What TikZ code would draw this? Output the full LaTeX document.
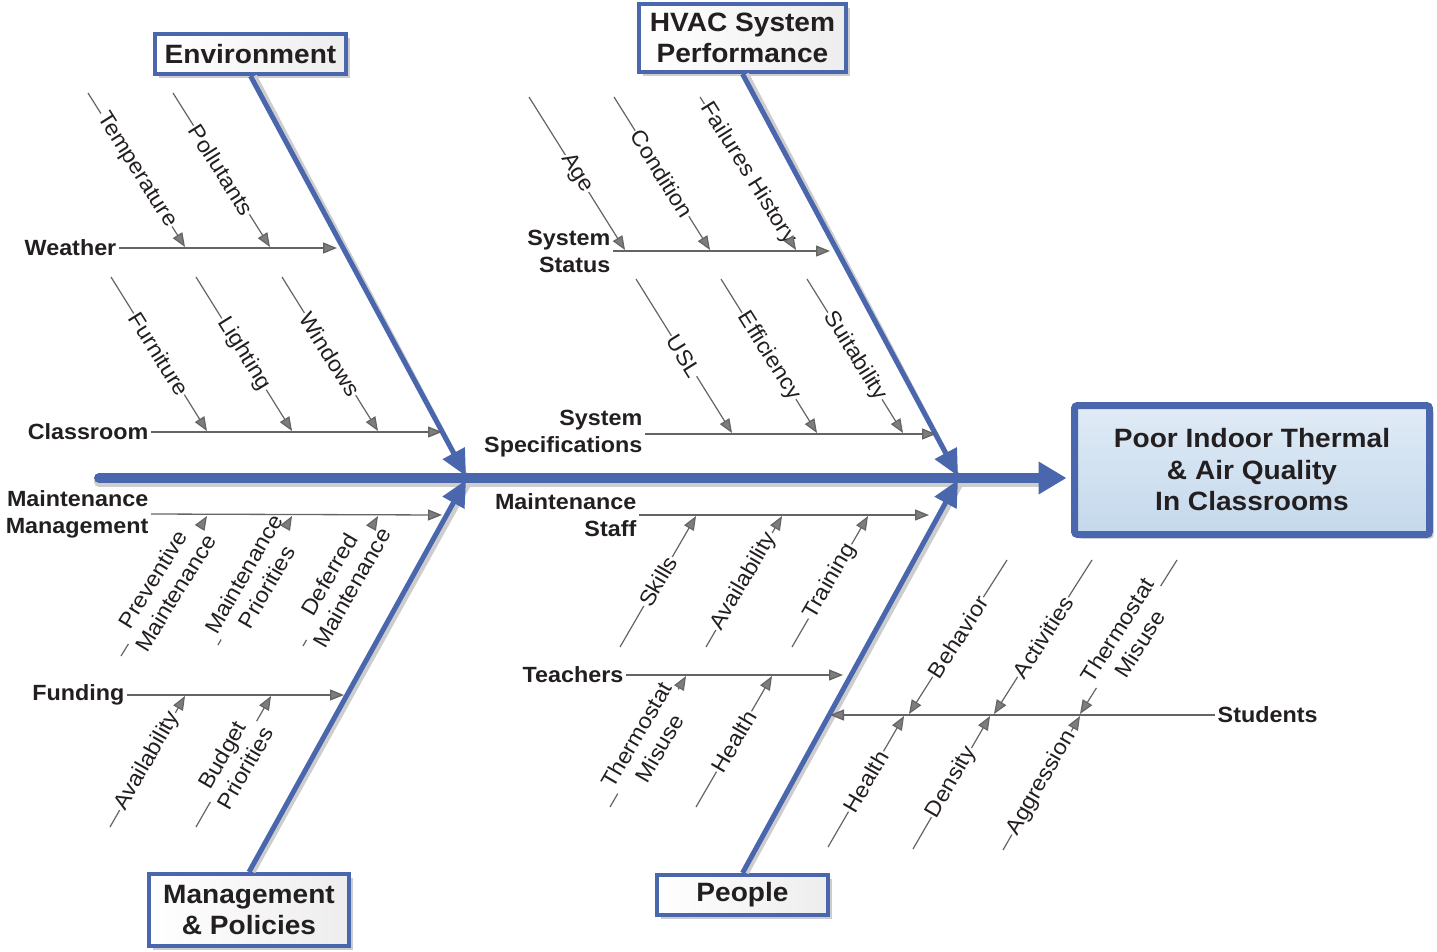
\documentclass[tikz,border=0pt]{standalone}
\usepackage{fontspec}
\setmainfont{Liberation Sans}[FakeStretch=1.06]
\usetikzlibrary{arrows.meta,calc,shadows}
\definecolor{bluec}{RGB}{74,102,172}
\definecolor{linec}{RGB}{100,100,100}
\definecolor{tipc}{RGB}{125,125,125}
\definecolor{txtc}{RGB}{35,31,32}
\definecolor{effTop}{RGB}{224,235,246}
\definecolor{effBot}{RGB}{196,216,235}
\definecolor{shd}{RGB}{205,205,205}
\newcommand\causefw[5][0.5]{%
  \coordinate (#2s) at #3;
  \coordinate (#2e) at #4;
  \path (#2s) -- (#2e) node[causelbl, sloped, pos=#1] (#2) {#5};
  \draw[subline] (#2s) -- (#2.west);
  \draw[subarrow] (#2.east) -- (#2e);
}
\newcommand\causerv[5][0.5]{%
  \coordinate (#2s) at #3;
  \coordinate (#2e) at #4;
  \path (#2s) -- (#2e) node[causelbl, sloped, pos=#1] (#2) {#5};
  \draw[subline] (#2s) -- (#2.east);
  \draw[subarrow] (#2.west) -- (#2e);
}
\begin{document}
\begin{tikzpicture}[x=1bp,y=-1bp,
  catbox/.style={draw=bluec, line width=4bp, left color=white, right color=black!7,
    font=\fontsize{26.5bp}{31.5bp}\selectfont\bfseries, text=txtc, align=center, inner sep=0pt,
    drop shadow={shadow xshift=4bp, shadow yshift=-4bp, fill=shd, opacity=1}},
  catlbl/.style={font=\fontsize{22bp}{27bp}\selectfont\bfseries, text=txtc, inner sep=2.5bp, align=right},
  causelbl/.style={font=\fontsize{22bp}{26.5bp}\selectfont, text=txtc, inner sep=1bp, align=center},
  bone/.style={draw=bluec, line width=5bp, -{Triangle[length=26bp,width=24bp]}},
  boneshd/.style={draw=shd, line width=5bp},
  spine/.style={draw=bluec, line width=10bp, line cap=round, -{Triangle[length=28bp,width=31bp]}},
  branch/.style={draw=linec, line width=1.3bp, -{Triangle[length=14bp,width=11bp,fill=tipc]}},
  subline/.style={draw=linec, line width=1.2bp},
  subarrow/.style={subline, -{Triangle[length=14bp,width=11bp,fill=tipc]}}
]
\useasboundingbox (0,0) rectangle (1437,951);

% ---------- boxes ----------
\node[catbox, minimum width=191bp, minimum height=40bp] (env) at (250.5,54) {Environment};
\node[catbox, minimum width=207bp, minimum height=68bp] (hvac) at (742.5,38) {HVAC System\\Performance};
\node[catbox, minimum width=200bp, minimum height=72bp] (mgmt) at (249,910) {Management\\\& Policies};
\node[catbox, minimum width=171bp, minimum height=40bp] (people) at (742.5,895) {People};
\node[draw=bluec, line width=7bp, rounded corners=3bp, top color=effTop, bottom color=effBot,
  minimum width=355bp, minimum height=129bp, inner sep=0pt,
  font=\fontsize{26.5bp}{31.5bp}\selectfont\bfseries, text=txtc, align=center,
  drop shadow={shadow xshift=4bp, shadow yshift=-4bp, fill=shd, opacity=1}] (eff) at (1252,470)
  {Poor Indoor Thermal\\\& Air Quality\\In Classrooms};

% ---------- spine and bones ----------
\coordinate (spL) at (99,478);
\coordinate (envtip) at (466,476);
\coordinate (hvactip) at (958,476);
\coordinate (mgmttip) at (466,480);
\coordinate (peopletip) at (958,480);

\draw[boneshd] ([xshift=4bp]env.south) -- ([xshift=2bp,yshift=-4bp]envtip);
\draw[boneshd] ([xshift=4bp]hvac.south) -- ([xshift=2bp,yshift=-4bp]hvactip);
\draw[boneshd] ([xshift=4bp]mgmt.north) -- ([xshift=4bp,yshift=-2bp]mgmttip);
\draw[boneshd] ([xshift=4bp]people.north) -- ([xshift=4bp,yshift=-2bp]peopletip);
\draw[draw=shd, line width=10bp, line cap=round] ([yshift=-4bp]spL) -- ([xshift=-32bp,yshift=-4bp]spL -| eff.west);

\draw[spine] (spL) -- ([xshift=-4.5bp]spL -| eff.west);
\draw[bone] (env.south) -- (envtip);
\draw[bone] (hvac.south) -- (hvactip);
\draw[bone] (mgmt.north) -- (mgmttip);
\draw[bone] (people.north) -- (peopletip);

% ---------- branches ----------
\node[catlbl, anchor=east] (weather) at (119,248) {Weather};
\coordinate (weatherT) at (337,248);
\draw[branch] (weather.east) -- (weatherT);

\node[catlbl, anchor=east] (classroom) at (151,432) {Classroom};
\coordinate (classroomT) at (442,432);
\draw[branch] (classroom.east) -- (classroomT);

\node[catlbl, anchor=east] (sstatus) at (613,251) {System\\Status};
\coordinate (sstatusT) at (830,251);
\draw[branch] (sstatus.east) -- (sstatusT);

\node[catlbl, anchor=east] (sspec) at (645,434) {System\\Specifications};
\coordinate (sspecT) at (936,434);
\draw[branch] (sspec.east) -- (sspecT);

\node[catlbl, anchor=east] (mmgmt) at (151,514) {Maintenance\\Management};
\coordinate (mmgmtT) at (442,515);
\draw[branch] (mmgmt.east) -- (mmgmtT);

\node[catlbl, anchor=east] (funding) at (127,695) {Funding};
\coordinate (fundingT) at (344,695);
\draw[branch] (funding.east) -- (fundingT);

\node[catlbl, anchor=east] (mstaff) at (639,515) {Maintenance\\Staff};
\coordinate (mstaffT) at (929,515);
\draw[branch] (mstaff.east) -- (mstaffT);

\node[catlbl, anchor=east] (teachers) at (626,675) {Teachers};
\coordinate (teachersT) at (843,675);
\draw[branch] (teachers.east) -- (teachersT);

\node[catlbl, anchor=west, align=left] (students) at (1215,715) {Students};
\coordinate (studentsT) at (830,715);
\draw[branch] (students.west) -- (studentsT);

% ---------- causes ----------
\causefw{temp}{(88,93)}{(185,247)}{Temperature}
\causefw{poll}{(173,93)}{(270,247)}{Pollutants}
\causefw{furn}{(111,277)}{(207,431)}{Furniture}
\causefw{lighting}{(196,277)}{(292,431)}{Lighting}
\causefw{wind}{(282,277)}{(378,431)}{Windows}
\causefw{age}{(529,97)}{(625,250)}{Age}
\causefw{cond}{(614,97)}{(710,250)}{Condition}
\causefw{fail}{(700,97)}{(796,250)}{Failures History}
\causefw{usl}{(636,279)}{(732,433)}{USL}
\causefw{effi}{(721,279)}{(817,433)}{Efficiency}
\causefw{suit}{(807,279)}{(903,433)}{Suitability}
\causefw{prev}{(121,656)}{(207,516)}{Preventive\\Maintenance}
\causefw{mpri}{(218,645)}{(292,516)}{Maintenance\\Priorities}
\causefw{defm}{(303,646)}{(378,516)}{Deferred\\Maintenance}
\causefw{favail}{(110,827)}{(185,696)}{Availability}
\causefw{budg}{(196,827)}{(271,696)}{Budget\\Priorities}
\causefw{skill}{(620,647)}{(696,516)}{Skills}
\causefw{savail}{(706,647)}{(782,516)}{Availability}
\causefw{train}{(792,647)}{(868,516)}{Training}
\causefw{tmis}{(610,807)}{(686,676)}{Thermostat\\Misuse}
\causefw{thealth}{(696,807)}{(772,676)}{Health}
\causefw{shealth}{(828,847)}{(904,716)}{Health}
\causefw{dens}{(913,849)}{(990,716)}{Density}
\causefw{aggr}{(1003,850)}{(1080,716)}{Aggression}
\causerv{behav}{(1007,560)}{(909,714)}{Behavior}
\causerv{activ}{(1092,560)}{(994,714)}{Activities}
\causerv{smis}{(1177,560)}{(1080,714)}{Thermostat\\Misuse}
\end{tikzpicture}
\end{document}
